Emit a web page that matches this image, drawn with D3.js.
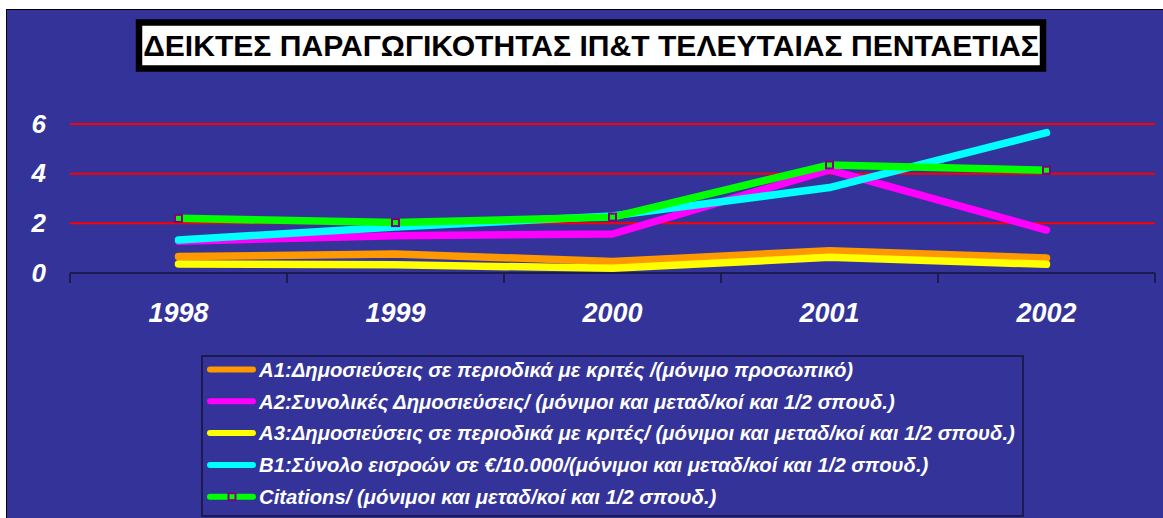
<!DOCTYPE html>
<html>
<head>
<meta charset="utf-8">
<script src="https://cdn.jsdelivr.net/npm/d3@7"></script>
<style>
  body { margin: 0; background: #fff; }
  svg { display: block; }
</style>
</head>
<body>
<div id="chart-container"></div>
<script>
const years = ["1998", "1999", "2000", "2001", "2002"];
const yTicks = [0, 2, 4, 6];

const a1Values = [0.66, 0.77, 0.46, 0.90, 0.60];
const a2Values = [1.28, 1.50, 1.57, 4.15, 1.73];
const a3Values = [0.36, 0.33, 0.19, 0.63, 0.35];
const b1Values = [1.33, 1.85, 2.30, 3.44, 5.65];
const citationValues = [2.20, 2.03, 2.25, 4.35, 4.14];

const seriesNames = [
  "A1:Δημοσιεύσεις σε περιοδικά με κριτές /(μόνιμο προσωπικό)",
  "A2:Συνολικές Δημοσιεύσεις/ (μόνιμοι και μεταδ/κοί και 1/2 σπουδ.)",
  "A3:Δημοσιεύσεις σε περιοδικά με κριτές/ (μόνιμοι και μεταδ/κοί και 1/2 σπουδ.)",
  "B1:Σύνολο εισροών σε €/10.000/(μόνιμοι και μεταδ/κοί και 1/2 σπουδ.)",
  "Citations/ (μόνιμοι και μεταδ/κοί και 1/2 σπουδ.)"
];
const chartTitle = "ΔΕΙΚΤΕΣ ΠΑΡΑΓΩΓΙΚΟΤΗΤΑΣ ΙΠ&Τ ΤΕΛΕΥΤΑΙΑΣ ΠΕΝΤΑΕΤΙΑΣ";

const series = [
  { name: seriesNames[0], values: a1Values, color: "#ff9900" },
  { name: seriesNames[1], values: a2Values, color: "#ff00ff" },
  { name: seriesNames[2], values: a3Values, color: "#ffff00" },
  { name: seriesNames[3], values: b1Values, color: "#00ffff" },
  { name: seriesNames[4], values: citationValues, color: "#00ff00", marker: true }
];

const W = 1163, H = 518;
const font = "'Liberation Sans', Arial, sans-serif";
const navy = "#1b1b4f";

const svg = d3.select("#chart-container")
  .append("svg")
    .attr("width", W)
    .attr("height", H);

// chart area background
svg.append("rect")
  .attr("x", 6.5)
  .attr("y", 9.5)
  .attr("width", W)
  .attr("height", H)
  .attr("fill", "#333399")
  .attr("stroke", "#000")
  .attr("stroke-width", 1);

// title box
svg.append("rect")
  .attr("x", 139)
  .attr("y", 22.5)
  .attr("width", 904)
  .attr("height", 46)
  .attr("fill", "#fff")
  .attr("stroke", "#000")
  .attr("stroke-width", 6.5);

const title = svg.append("text")
  .attr("x", 591)
  .attr("y", 56)
  .attr("text-anchor", "middle")
  .style("font-family", font)
  .style("font-weight", "bold")
  .style("font-size", "32px")
  .style("fill", "#000")
  .text(chartTitle);
const tw = title.node().getComputedTextLength();
title.style("font-size", (32 * 896 / tw).toFixed(2) + "px");

const x = d3.scaleBand()
  .domain(years)
  .range([70, 1155]);

const y = d3.scaleLinear()
  .domain([0, 6])
  .range([273, 124]);

// grid lines
svg.selectAll(".yGrid")
  .data(yTicks.filter(d => d > 0))
  .join("line")
  .attr("class", "yGrid")
  .attr("x1", 70)
  .attr("x2", 1155)
  .attr("y1", d => y(d))
  .attr("y2", d => y(d))
  .attr("stroke", "#ff0000")
  .attr("stroke-width", 2);

// y labels
svg.append("g")
  .attr("transform", "translate(70,0)")
  .call(d3.axisLeft(y)
    .tickValues(yTicks)
    .tickFormat(d3.format("d"))
    .tickSize(0)
    .tickPadding(24))
  .call(g => g.select(".domain").remove())
  .selectAll(".tick text")
  .style("font-family", font)
  .style("font-size", "26px")
  .style("font-weight", "bold")
  .style("font-style", "italic")
  .style("fill", "#fff");

// x axis
const xAxis = svg.append("g")
  .attr("transform", `translate(0, ${y(0)})`);
xAxis.append("line")
  .attr("x1", 70)
  .attr("x2", 1155)
  .attr("stroke", navy)
  .attr("stroke-width", 2);
xAxis.selectAll(".xTick")
  .data(years.concat(["end"]))
  .join("line")
  .attr("class", "xTick")
  .attr("x1", (d, i) => i < years.length ? x(d) : x.range()[1])
  .attr("x2", (d, i) => i < years.length ? x(d) : x.range()[1])
  .attr("y1", 0)
  .attr("y2", 10)
  .attr("stroke", navy)
  .attr("stroke-width", 2);
xAxis.selectAll(".xLabel")
  .data(years)
  .join("text")
  .attr("class", "xLabel")
  .attr("x", d => x(d) + x.bandwidth() / 2)
  .attr("y", 49)
  .attr("text-anchor", "middle")
  .style("font-family", font)
  .style("font-size", "27px")
  .style("font-weight", "bold")
  .style("font-style", "italic")
  .style("fill", "#fff")
  .text(d => d);

const line = d3.line()
  .x((d, i) => x(years[i]) + x.bandwidth() / 2)
  .y(d => y(d));

series.forEach(s => {
  svg.append("path")
    .datum(s.values)
    .attr("fill", "none")
    .attr("stroke", s.color)
    .attr("stroke-width", 7.5)
    .attr("stroke-linecap", "round")
    .attr("stroke-linejoin", "round")
    .attr("d", line);

  if (s.marker) {
    svg.selectAll(".marker")
      .data(s.values)
      .join("rect")
      .attr("class", "marker")
      .attr("x", (d, i) => x(years[i]) + x.bandwidth() / 2 - 3.5)
      .attr("y", d => y(d) - 3.5)
      .attr("width", 7)
      .attr("height", 7)
      .attr("fill", s.color)
      .attr("stroke", "#800080")
      .attr("stroke-width", 2);
  }
});

// legend
const legend = svg.append("g");
legend.append("rect")
  .attr("x", 202)
  .attr("y", 356)
  .attr("width", 821)
  .attr("height", 160)
  .attr("fill", "none")
  .attr("stroke", navy)
  .attr("stroke-width", 2);

const rows = legend.selectAll(".legendRow")
  .data(series)
  .join("g")
  .attr("class", "legendRow")
  .attr("transform", (d, i) => `translate(0, ${369.5 + i * 31.8})`);

rows.append("line")
  .attr("x1", 210)
  .attr("x2", 253)
  .attr("stroke", d => d.color)
  .attr("stroke-width", 6)
  .attr("stroke-linecap", "round");

rows.filter(d => d.marker)
  .append("rect")
  .attr("x", 228.5)
  .attr("y", -3.5)
  .attr("width", 7)
  .attr("height", 7)
  .attr("fill", d => d.color)
  .attr("stroke", "#800080")
  .attr("stroke-width", 2);

const labels = rows.append("text")
  .attr("x", 259)
  .attr("y", 6.5)
  .style("font-family", font)
  .style("font-size", "18px")
  .style("font-weight", "bold")
  .style("font-style", "italic")
  .style("fill", "#fff")
  .text(d => d.name);

// fit legend font so the longest entry spans as in the original
const longest = d3.max(labels.nodes(), n => n.getComputedTextLength());
const legendSize = Math.min(21, 18 * 756 / longest);
labels.style("font-size", legendSize.toFixed(2) + "px")
  .attr("y", legendSize * 0.36);
</script>
</body>
</html>
